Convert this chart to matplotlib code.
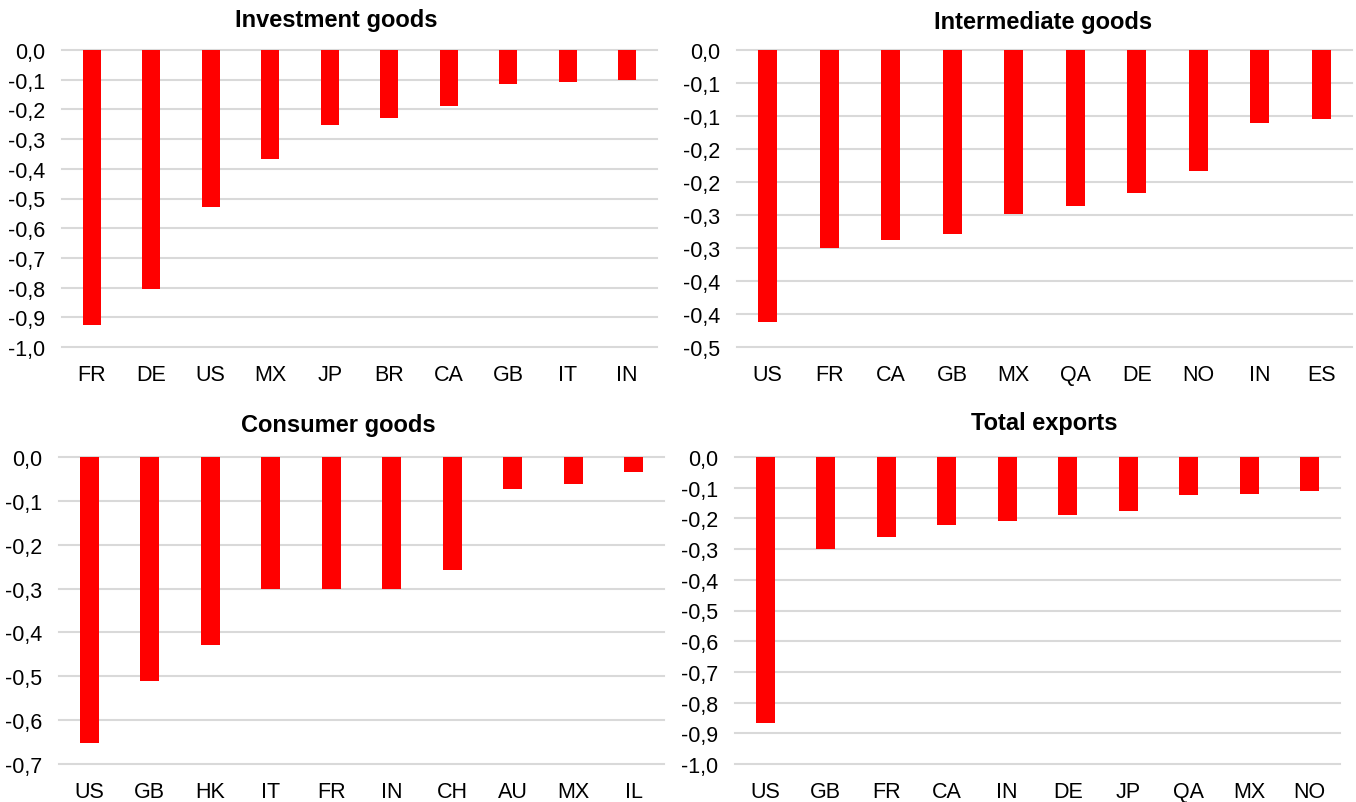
from decimal import Decimal, ROUND_HALF_UP

import matplotlib
matplotlib.use("Agg")
import matplotlib.pyplot as plt
import numpy as np
from matplotlib.ticker import FuncFormatter, MultipleLocator

plt.rcParams["font.family"] = ["Liberation Sans", "DejaVu Sans"]

BAR_RED = "#ff0000"
GRID_GREY = "#d9d9d9"

# Investment goods
invest_countries = ["FR", "DE", "US", "MX", "JP", "BR", "CA", "GB", "IT", "IN"]
invest_values = [-0.927, -0.806, -0.528, -0.366, -0.251, -0.230, -0.190, -0.115, -0.108, -0.102]

# Intermediate goods
inter_countries = ["US", "FR", "CA", "GB", "MX", "QA", "DE", "NO", "IN", "ES"]
inter_values = [-0.412, -0.300, -0.288, -0.279, -0.249, -0.237, -0.216, -0.183, -0.110, -0.104]

# Consumer goods
consumer_countries = ["US", "GB", "HK", "IT", "FR", "IN", "CH", "AU", "MX", "IL"]
consumer_values = [-0.652, -0.510, -0.428, -0.300, -0.300, -0.300, -0.258, -0.074, -0.061, -0.034]

# Total exports
total_countries = ["US", "GB", "FR", "CA", "IN", "DE", "JP", "QA", "MX", "NO"]
total_values = [-0.866, -0.300, -0.261, -0.223, -0.210, -0.189, -0.177, -0.125, -0.120, -0.112]


def comma_label(v, pos):
    # one decimal, halves rounded away from zero, decimal comma
    d = Decimal(f"{float(v):.6f}").quantize(Decimal("0.1"), rounding=ROUND_HALF_UP)
    if d == 0:
        d = abs(d)
    return str(d).replace(".", ",")


W, H = 1356, 803
fig = plt.figure(figsize=(W / 100, H / 100), dpi=100)


def add_panel(box, title, title_xy, countries, values, ymin, step):
    left, top, right, bottom = box
    ax = fig.add_axes([left / W, 1 - bottom / H, (right - left) / W, (bottom - top) / H])
    x = np.arange(len(countries))
    ax.bar(x, values, width=0.31, color=BAR_RED, zorder=3)

    ax.set_xlim(-0.5, len(countries) - 0.5)
    ax.set_ylim(ymin, 0)
    ax.yaxis.set_major_locator(MultipleLocator(step))
    ax.yaxis.set_major_formatter(FuncFormatter(comma_label))
    ax.set_xticks(x)
    ax.set_xticklabels(countries)

    ax.grid(axis="y", color=GRID_GREY, linewidth=1.5, zorder=0)
    for gl in ax.get_ygridlines():
        gl.set_clip_on(False)
    for s in ax.spines.values():
        s.set_visible(False)
    ax.tick_params(axis="y", length=0, pad=12, labelsize=15.5, labelcolor="black")
    ax.tick_params(axis="x", length=0, pad=12, labelsize=15.5, labelcolor="black")

    fig.text(title_xy[0] / W, 1 - title_xy[1] / H, title, ha="center", va="center",
             fontsize=17, fontweight="bold")
    return ax


add_panel((62, 51, 657, 348), "Investment goods", (336, 20),
          invest_countries, invest_values, -1.0, 0.1)
add_panel((737, 51, 1352, 348), "Intermediate goods", (1043, 22),
          inter_countries, inter_values, -0.45, 0.05)
add_panel((59, 458, 664, 765), "Consumer goods", (338, 426),
          consumer_countries, consumer_values, -0.7, 0.1)
add_panel((735, 458, 1340, 765), "Total exports", (1044, 424),
          total_countries, total_values, -1.0, 0.1)

fig.savefig("out.png", dpi=100, facecolor="white")
